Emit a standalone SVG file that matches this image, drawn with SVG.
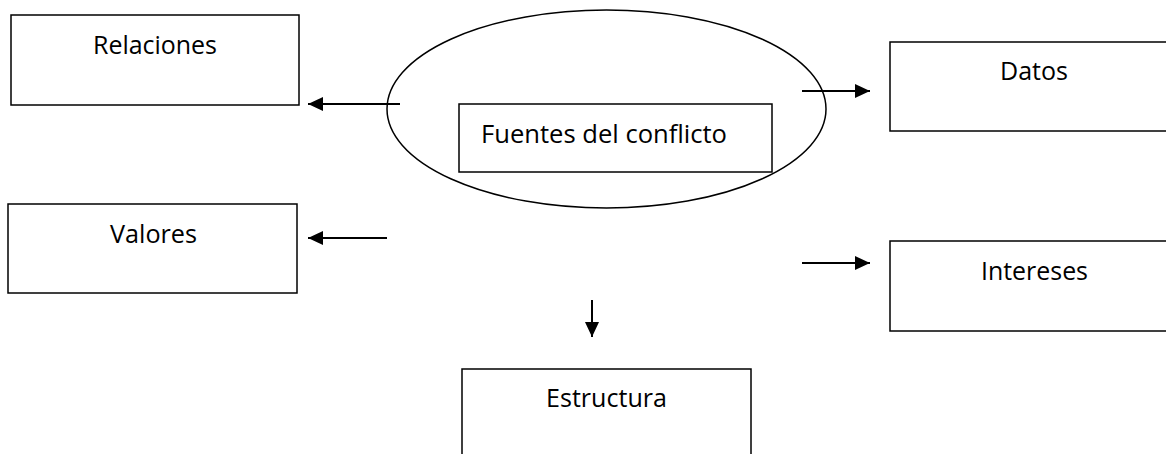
<svg xmlns="http://www.w3.org/2000/svg" width="1166" height="454" viewBox="0 0 1166 454">
<style>
.box{fill:#fff;stroke:#000;stroke-width:1.5}
.ell{fill:none;stroke:#000;stroke-width:1.5}
.lbl{font-family:"Open Sans","Liberation Sans",sans-serif;font-size:25px;fill:#000}
.con{stroke:#000;stroke-width:2;fill:none;marker-end:url(#ah)}
</style>
<defs>
<marker id="ah" markerUnits="userSpaceOnUse" markerWidth="16" markerHeight="14" refX="15" refY="7" orient="auto">
<path d="M0,0 L15,7 L0,14 Z" fill="#000"/>
</marker>
</defs>
<rect width="1166" height="454" fill="#fff"/>
<g id="relaciones">
<rect class="box" x="11" y="15" width="288" height="90"/>
<text class="lbl" x="93" y="54" textLength="124" lengthAdjust="spacingAndGlyphs">Relaciones</text>
</g>
<g id="valores">
<rect class="box" x="8" y="204" width="289" height="89"/>
<text class="lbl" x="110" y="243" textLength="87" lengthAdjust="spacingAndGlyphs">Valores</text>
</g>
<g id="fuentes">
<ellipse class="ell" cx="606.5" cy="109" rx="219.5" ry="99"/>
<rect class="box" x="459" y="104" width="313" height="68"/>
<text class="lbl" x="481" y="143" textLength="246" lengthAdjust="spacingAndGlyphs">Fuentes del conflicto</text>
</g>
<g id="datos">
<rect class="box" x="890" y="42" width="290" height="89"/>
<text class="lbl" x="1000" y="80" textLength="68" lengthAdjust="spacingAndGlyphs">Datos</text>
</g>
<g id="intereses">
<rect class="box" x="890" y="241" width="290" height="90"/>
<text class="lbl" x="981" y="280" textLength="107" lengthAdjust="spacingAndGlyphs">Intereses</text>
</g>
<g id="estructura">
<rect class="box" x="462" y="369" width="289" height="100"/>
<text class="lbl" x="546" y="407" textLength="121" lengthAdjust="spacingAndGlyphs">Estructura</text>
</g>
<g id="connectors">
<line class="con" x1="400" y1="104" x2="308" y2="104"/>
<line class="con" x1="387" y1="238" x2="308" y2="238"/>
<line class="con" x1="802" y1="91" x2="870" y2="91"/>
<line class="con" x1="802" y1="263" x2="870" y2="263"/>
<line class="con" x1="592" y1="300" x2="592" y2="337"/>
</g>
</svg>
